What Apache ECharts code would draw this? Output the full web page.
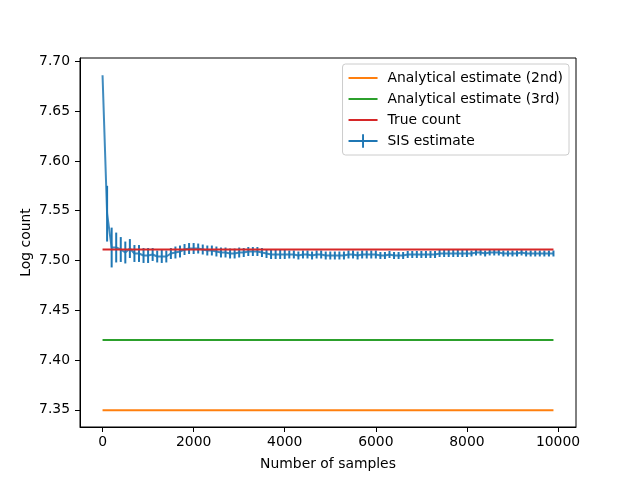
<!DOCTYPE html>
<html>
<head>
<meta charset="utf-8">
<script src="https://cdn.jsdelivr.net/npm/echarts@6/dist/echarts.min.js"></script>
<style>
  html, body { margin: 0; padding: 0; background: #fff; }
  #main { width: 640px; height: 480px; }
</style>
</head>
<body>
<div id="main"></div>
<script>
// sample counts, one point per 100 samples
var samples = [];
for (var s = 0; s < 10000; s += 100) samples.push(s);

// SIS estimate (mean)
var sisMean = [
  7.686, 7.547, 7.513, 7.513, 7.511, 7.508, 7.512, 7.507, 7.507, 7.505,
  7.505, 7.506, 7.504, 7.504, 7.504, 7.507, 7.508, 7.509, 7.511, 7.512,
  7.512, 7.512, 7.511, 7.510, 7.510, 7.509, 7.508, 7.508, 7.507, 7.507,
  7.508, 7.508, 7.509, 7.509, 7.509, 7.508, 7.507, 7.506, 7.506, 7.506,
  7.506, 7.506, 7.506, 7.505, 7.506, 7.506, 7.505, 7.506, 7.506, 7.505,
  7.505, 7.505, 7.505, 7.505, 7.506, 7.506, 7.505, 7.506, 7.506, 7.506,
  7.506, 7.505, 7.505, 7.506, 7.505, 7.505, 7.505, 7.506, 7.506, 7.506,
  7.506, 7.506, 7.506, 7.506, 7.507, 7.507, 7.507, 7.507, 7.507, 7.507,
  7.507, 7.507, 7.508, 7.508, 7.507, 7.508, 7.508, 7.508, 7.507, 7.507,
  7.507, 7.507, 7.508, 7.507, 7.507, 7.507, 7.507, 7.507, 7.507, 7.507
];

// half length of the error bars
var sisErr = [
  0.000, 0.028, 0.020, 0.015, 0.0125, 0.011, 0.0095, 0.0085, 0.0085, 0.0075,
  0.0075, 0.0065, 0.006, 0.0065, 0.006, 0.0055, 0.006, 0.006, 0.0055, 0.0055,
  0.0055, 0.005, 0.005, 0.005, 0.005, 0.005, 0.005, 0.005, 0.005, 0.005,
  0.005, 0.0045, 0.0045, 0.0045, 0.0045, 0.0045, 0.0045, 0.0045, 0.0045, 0.0045,
  0.0045, 0.004, 0.004, 0.004, 0.004, 0.004, 0.004, 0.004, 0.004, 0.004,
  0.004, 0.004, 0.004, 0.004, 0.004, 0.004, 0.004, 0.004, 0.004, 0.004,
  0.004, 0.0035, 0.0035, 0.0035, 0.0035, 0.0035, 0.0035, 0.0035, 0.0035, 0.0035,
  0.0035, 0.0035, 0.0035, 0.0035, 0.0035, 0.0035, 0.0035, 0.0035, 0.0035, 0.0035,
  0.0035, 0.003, 0.003, 0.003, 0.003, 0.003, 0.003, 0.003, 0.003, 0.003,
  0.003, 0.003, 0.003, 0.003, 0.003, 0.003, 0.003, 0.003, 0.003, 0.003
];

var analytical2nd = 7.3496;
var analytical3rd = 7.420;
var trueCount = 7.511;

var xTicks = [0, 2000, 4000, 6000, 8000, 10000];
var yTicks = [7.35, 7.40, 7.45, 7.50, 7.55, 7.60, 7.65, 7.70];

var font = 'DejaVu Sans';
var first = samples[0], last = samples[samples.length - 1];

// legend icons: plain line, and line with a vertical bar for the errorbar one
// (the hairline at x=0 just keeps the box 14px high so the line isn't stretched)
var lineIcon = 'path://M0,0h0.01v14h-0.01z M0,6h30v2h-30z';
var errIcon = 'path://M0,6h30v2h-30z M14,0h2v14h-2z';

function flat(v) {
  return [[first, v], [last, v]];
}

var myChart = echarts.init(document.getElementById('main'), null, {renderer: 'canvas'});

myChart.setOption({
  animation: false,
  backgroundColor: '#fff',
  grid: {
    left: 80, right: 64, top: 58, bottom: 53,
    show: true, borderColor: '#000', borderWidth: 1, backgroundColor: 'transparent'
  },
  legend: {
    orient: 'vertical',
    right: 71, top: 64,
    padding: [7, 6, 7, 6],
    itemGap: 7,
    itemWidth: 29, itemHeight: 14,
    backgroundColor: 'rgba(255,255,255,0.8)',
    borderColor: '#cccccc', borderWidth: 1, borderRadius: 3,
    textStyle: {fontFamily: font, fontSize: 13.9, color: '#000', padding: [0, 0, 0, 5]},
    data: [
      {name: 'Analytical estimate (2nd)', icon: lineIcon},
      {name: 'Analytical estimate (3rd)', icon: lineIcon},
      {name: 'True count', icon: lineIcon},
      {name: 'SIS estimate', icon: errIcon}
    ]
  },
  xAxis: {
    type: 'value',
    min: -495, max: 10395,
    name: 'Number of samples',
    nameLocation: 'middle', nameGap: 30, nameMoveOverlap: false,
    nameTextStyle: {fontFamily: font, fontSize: 13.9, color: '#000'},
    axisLine: {show: true, onZero: false, lineStyle: {color: '#000', width: 1}},
    axisTick: {show: true, inside: false, length: 5, customValues: xTicks, lineStyle: {color: '#000'}},
    axisLabel: {
      customValues: xTicks, margin: 8,
      fontFamily: font, fontSize: 13.9, color: '#000',
      formatter: function (v) { return String(v); }
    },
    splitLine: {show: false}
  },
  yAxis: {
    type: 'value',
    min: 7.3327, max: 7.7034,
    name: 'Log count',
    nameLocation: 'middle', nameGap: 47, nameRotate: 90, nameMoveOverlap: false,
    nameTextStyle: {fontFamily: font, fontSize: 13.9, color: '#000'},
    axisLine: {show: true, onZero: false, lineStyle: {color: '#000', width: 1}},
    axisTick: {show: true, inside: false, length: 5, customValues: yTicks, lineStyle: {color: '#000'}},
    axisLabel: {
      customValues: yTicks, margin: 10,
      fontFamily: font, fontSize: 13.9, color: '#000',
      formatter: function (v) { return v.toFixed(2); }
    },
    splitLine: {show: false}
  },
  series: [
    {
      name: 'Analytical estimate (2nd)', type: 'line', symbol: 'none',
      color: '#ff7f0e', lineStyle: {width: 2}, data: flat(analytical2nd), z: 3
    },
    {
      name: 'Analytical estimate (3rd)', type: 'line', symbol: 'none',
      color: '#2ca02c', lineStyle: {width: 2}, data: flat(analytical3rd), z: 3
    },
    {
      name: 'True count', type: 'line', symbol: 'none',
      color: '#d62728', lineStyle: {width: 2}, data: flat(trueCount), z: 5
    },
    {
      name: 'SIS estimate', type: 'line', symbol: 'none',
      color: '#1f77b4', lineStyle: {width: 2, opacity: 0.85},
      data: samples.map(function (x, i) { return [x, sisMean[i]]; }), z: 4
    },
    {
      // error bars
      name: 'SIS estimate', type: 'custom', z: 4,
      color: '#1f77b4',
      encode: {x: 0, y: [1, 2]},
      data: samples.map(function (x, i) {
        return [x, sisMean[i] - sisErr[i], sisMean[i] + sisErr[i]];
      }),
      renderItem: function (params, api) {
        var lo = api.coord([api.value(0), api.value(1)]);
        var hi = api.coord([api.value(0), api.value(2)]);
        return {
          type: 'line',
          shape: {x1: lo[0], y1: lo[1], x2: hi[0], y2: hi[1]},
          style: {stroke: '#1f77b4', lineWidth: 2}
        };
      }
    }
  ]
});
</script>
</body>
</html>
